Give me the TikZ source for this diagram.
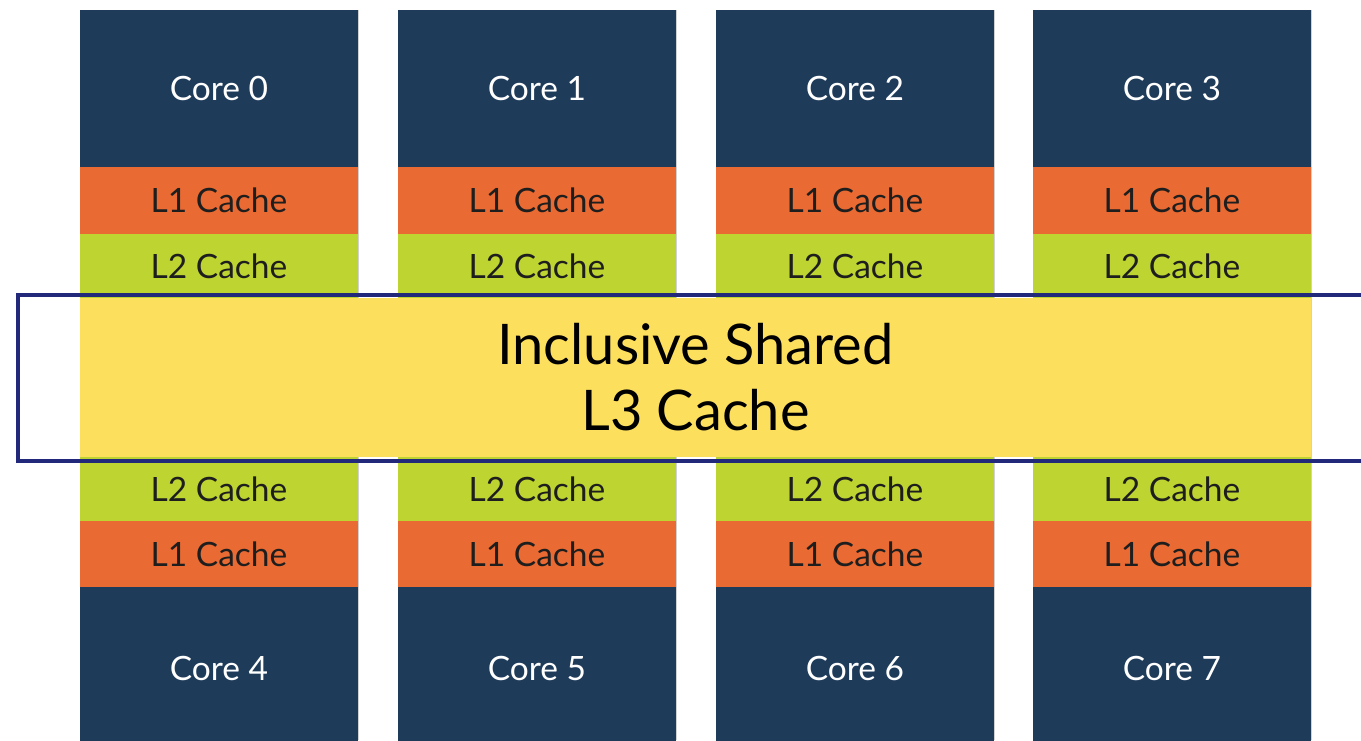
\documentclass[tikz,border=0pt]{standalone}
\usepackage{fontspec}
\setmainfont{Lato}
\definecolor{corenavy}{HTML}{1F3B5A}
\definecolor{lonecol}{HTML}{E96A32}
\definecolor{ltwocol}{HTML}{BED430}
\definecolor{lthreecol}{HTML}{FDDF5E}
\definecolor{framecol}{HTML}{23297A}
\definecolor{labelcol}{HTML}{1E1E1E}
\begin{document}
\begin{tikzpicture}[x=1pt,y=-1pt,
  block/.style={inner sep=0pt, outer sep=0pt, minimum width=278pt, anchor=north west,
                font=\fontsize{33.5}{38}\selectfont},
  corebox/.style={block, fill=corenavy, text=white},
  lonebox/.style={block, fill=lonecol, text=labelcol},
  ltwobox/.style={block, fill=ltwocol, text=labelcol},
  sharedbox/.style={inner sep=0pt, outer sep=0pt, fill=lthreecol, text=black, align=center,
                    font=\fontsize{56}{66}\selectfont},
  framebox/.style={draw=framecol, line width=4.5pt}]
\useasboundingbox (0,0) rectangle (1361,740);
% one column of private caches per core pair
\foreach \i/\x in {0/80,1/398,2/716,3/1033} {
  \pgfmathtruncatemacro{\j}{\i+4}
  % upper core with its L1 and L2
  \node[corebox, minimum height=157pt] (core\i) at (\x,10) {Core \i};
  \node[lonebox, minimum height=67pt] (lone\i) at (\x,167) {L1 Cache};
  \node[ltwobox, minimum height=64pt] (ltwo\i) at (\x,234) {L2 Cache};
  % lower core with its L2 and L1
  \node[ltwobox, minimum height=64pt] (ltwo\j) at (\x,457) {L2 Cache};
  \node[lonebox, minimum height=66pt] (lone\j) at (\x,521) {L1 Cache};
  \node[corebox, minimum height=163pt] (core\j) at (\x,587) {Core \j};
  % faint edge on the right of each column
  \draw[black!18, line width=1.2pt] (\x+278.6,10) -- (\x+278.6,740);
}
% shared last-level cache across all columns
\node[sharedbox, minimum width=1231pt, minimum height=159pt, anchor=north west] (lthree) at (80,298)
  {Inclusive Shared\\L3 Cache};
% outline around the shared level
\draw[framebox] (18,295) rectangle (1380,461);
\end{tikzpicture}
\end{document}
